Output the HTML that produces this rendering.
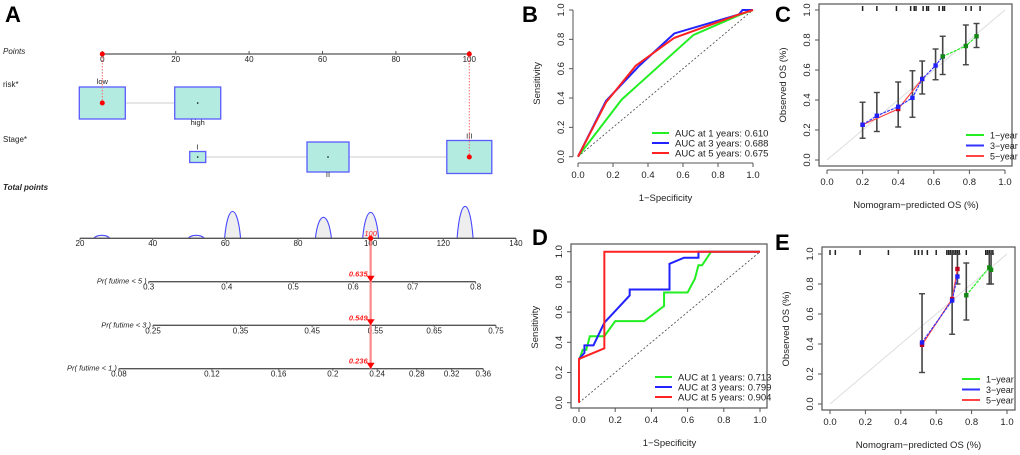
<!DOCTYPE html>
<html><head><meta charset="utf-8"><style>
html,body{margin:0;padding:0;background:#fff;width:1020px;height:455px;overflow:hidden}
svg{display:block;font-family:"Liberation Sans",Arial,sans-serif}
</style></head><body>
<svg id="fig" width="1020" height="455" viewBox="0 0 1020 455" xmlns="http://www.w3.org/2000/svg"></svg>
<script>
// ---------- Data ----------
const pointsTicks=[0,20,40,60,80,100];
const riskLevels=["low","high"];
const riskPoints=[0,26];
const stageLevels=["I","II","III"];
const stagePoints=[26,61.5,100];
const totalTicks=[20,40,60,80,100,120,140];
const densityCenters=[26,52,62,87,100,126];
const densityHeights=[3,3,27,21,26,32];
const pr5Labels=["0.3","0.4","0.5","0.6","0.7","0.8"];
const pr5Pts=[38.9,60.4,78.7,95.2,111.6,128.9];
const pr3Labels=["0.25","0.35","0.45","0.55","0.65","0.75"];
const pr3Pts=[40.1,64.2,83.9,101.3,117.5,134.5];
const pr1Labels=["0.08","0.12","0.16","0.2","0.24","0.28","0.32","0.36"];
const pr1Pts=[30.7,56.3,74.7,89.6,101.8,112.7,122.3,131.0];
const selTotal=100;
const selPr=["0.635","0.549","0.236"];
const bGreenX=[0,0.25,0.66,0.93,1], bGreenY=[0,0.39,0.83,0.97,1];
const bBlueX=[0,0.16,0.35,0.55,0.92,0.94,1], bBlueY=[0,0.38,0.62,0.84,0.97,1,1];
const bRedX=[0,0.16,0.33,0.55,0.92,1], bRedY=[0,0.37,0.62,0.81,0.97,1];
const bLegend=["AUC at 1 years: 0.610","AUC at 3 years: 0.688","AUC at 5 years: 0.675"];
const dGreenX=[0,0.02,0.04,0.06,0.14,0.2,0.36,0.47,0.47,0.6,0.64,0.66,0.68,0.73,1];
const dGreenY=[0.28,0.35,0.35,0.44,0.44,0.54,0.54,0.64,0.73,0.73,0.82,0.91,0.91,1,1];
const dBlueX=[0,0.03,0.03,0.08,0.14,0.28,0.28,0.5,0.5,0.58,0.66,0.66,1];
const dBlueY=[0.29,0.33,0.38,0.38,0.53,0.71,0.75,0.75,0.92,0.96,0.96,1,1];
const dRedX=[0,0,0.14,0.14,1], dRedY=[0,0.29,0.36,1,1];
const dLegend=["AUC at 1 years: 0.713","AUC at 3 years: 0.799","AUC at 5 years: 0.904"];
const cGreenX=[0.65,0.78,0.84], cGreenY=[0.69,0.76,0.825];
const cBlueX=[0.2,0.28,0.4,0.48,0.535,0.61,0.65], cBlueY=[0.235,0.295,0.355,0.415,0.54,0.63,0.69];
const cRedX=[0.2,0.4,0.535], cRedY=[0.235,0.34,0.54];
const cErrX=[0.2,0.28,0.4,0.48,0.535,0.61,0.65,0.78,0.84];
const cErrLo=[0.145,0.19,0.22,0.285,0.44,0.535,0.57,0.635,0.75];
const cErrHi=[0.385,0.45,0.52,0.595,0.66,0.74,0.825,0.9,0.91];
const cRug=[0.2,0.28,0.39,0.47,0.49,0.5,0.54,0.56,0.57,0.63,0.65,0.66,0.78,0.81,0.86];
const eGreenX=[0.77,0.9,0.91], eGreenY=[0.725,0.91,0.895];
const eBlueX=[0.52,0.69,0.72], eBlueY=[0.41,0.69,0.85];
const eRedX=[0.52,0.69,0.72], eRedY=[0.395,0.70,0.90];
const eErrX=[0.52,0.69,0.72,0.77,0.9,0.91];
const eErrLo=[0.21,0.465,0.8,0.56,0.8,0.8];
const eErrHi=[0.735,1.0,1.0,0.94,1.0,1.0];
const eRug=[0.0,0.03,0.17,0.33,0.48,0.5,0.52,0.55,0.6,0.66,0.67,0.68,0.69,0.7,0.71,0.72,0.73,0.77,0.88,0.89,0.9,0.91,0.92];
const calLegend=["1\u2212year","3\u2212year","5\u2212year"];
const ticks01=["0.0","0.2","0.4","0.6","0.8","1.0"];

// ---------- helpers ----------
const NS="http://www.w3.org/2000/svg";
const svg=document.getElementById('fig');
function el(tag,attrs,parent,text){const e=document.createElementNS(NS,tag);for(const k in attrs)e.setAttribute(k,attrs[k]);if(text!==undefined)e.textContent=text;(parent||svg).appendChild(e);return e;}
function grp(name,parent){const g=el('g',{},parent);return g;}
function txt(parent,x,y,s,size,opt){opt=opt||{};const t=el('text',{x:x,y:y,'font-size':size,'text-anchor':opt.anchor||'middle',fill:opt.fill||'#222','font-style':opt.italic?'italic':'normal','font-weight':opt.bold?'bold':'normal'},parent,s);if(opt.rot)t.setAttribute('transform','rotate(-90 '+x+' '+y+')');return t;}

[["A",5,22],["B",522,22],["C",775,22],["D",532,245],["E",775,250]].forEach(l=>{txt(svg,l[1],l[2],l[0],22,{anchor:'start',bold:true,fill:'#000',name:'panel-label-'+l[0].toLowerCase()});});

// ---------- Panel A nomogram ----------
const A=grp('nomogram-panel');
const px=v=>102.3+v*3.67;
const tx=v=>80+(v-20)*3.633;
function hAxis(g,x1,x2,y){el('line',{x1:x1,x2:x2,y1:y,y2:y,stroke:'#555','stroke-width':1.3},g);}
txt(A,3,54,"Points",8,{anchor:'start',italic:true,name:'points-title'});
const pg=grp('points-axis',A); hAxis(pg,px(0),px(100),54);
pointsTicks.forEach(v=>{el('line',{x1:px(v),x2:px(v),y1:54,y2:51,stroke:'#555'},pg);txt(pg,px(v),62,String(v),8,{name:'points-tick'});});
txt(A,3,87,"risk*",8,{anchor:'start',name:'risk-title'});
const rg=grp('risk-row',A);
el('line',{x1:px(riskPoints[0]),x2:px(riskPoints[1]),y1:103,y2:103,stroke:'#ddd','stroke-width':1.5},rg);
riskPoints.forEach((p,i)=>{const cx=px(p);el('rect',{x:cx-23,y:87,width:46,height:32,fill:'#b3ebe0',stroke:'#5a5aff','stroke-width':1.3},rg);
 txt(rg,cx,i==0?84:125,riskLevels[i],7.5,{name:'risk-level-'+riskLevels[i]});el('circle',{cx:cx,cy:103,r:0.8,fill:'#000'},rg);});
txt(A,3,142,"Stage*",8,{anchor:'start',name:'stage-title'});
const sg=grp('stage-row',A);
el('line',{x1:px(stagePoints[0]),x2:px(stagePoints[2]),y1:157,y2:157,stroke:'#ddd','stroke-width':1.5},sg);
const sW=[16,42,45],sH=[11,30,33];
stagePoints.forEach((p,i)=>{const cx=px(p);el('rect',{x:cx-sW[i]/2,y:157-sH[i]/2,width:sW[i],height:sH[i],fill:'#b3ebe0',stroke:'#5a5aff','stroke-width':1.3},sg);
 const ly=i==1?157+sH[i]/2+5:157-sH[i]/2-2;txt(sg,cx,ly,stageLevels[i],7.5,{name:'stage-level'});el('circle',{cx:cx,cy:157,r:0.8,fill:'#000'},sg);});
el('line',{x1:px(0),x2:px(0),y1:54,y2:103,stroke:'#f66','stroke-dasharray':'1.5,1.5'},A);
el('line',{x1:px(100),x2:px(100),y1:54,y2:157,stroke:'#f66','stroke-dasharray':'1.5,1.5'},A);
[[px(0),54],[px(100),54],[px(0),103],[px(100),157]].forEach(c=>el('circle',{cx:c[0],cy:c[1],r:2.5,fill:'#f00'},A));
txt(A,3,190,"Total points",8,{anchor:'start',italic:true,bold:true,name:'total-points-title'});
const tg=grp('total-points-axis',A);
const ty=238.3;
densityCenters.forEach((c,i)=>{const x=tx(c),h=densityHeights[i],w=8;const d='M'+(x-w)+','+ty+' C'+(x-w*0.6)+','+(ty-h*1.33)+' '+(x+w*0.6)+','+(ty-h*1.33)+' '+(x+w)+','+ty;
 const p=el('path',{d:d,fill:'#eee',stroke:'#4848ff','stroke-width':1.1},tg);});
hAxis(tg,tx(20),tx(140),ty);
totalTicks.forEach(v=>{el('line',{x1:tx(v),x2:tx(v),y1:ty,y2:ty+2,stroke:'#555'},tg);txt(tg,tx(v),246,String(v),8,{name:'total-tick'});});
const prRows=[[ "Pr( futime < 5 )",281.7,pr5Labels,pr5Pts],["Pr( futime < 3 )",325.3,pr3Labels,pr3Pts],["Pr( futime < 1 )",368.7,pr1Labels,pr1Pts]];
prRows.forEach((r,k)=>{const g=grp('probability-axis-'+k,A);const xs=r[3].map(tx);
 hAxis(g,xs[0],xs[xs.length-1],r[1]);
 txt(g,xs[0]-2,r[1]+2,r[0],7.5,{anchor:'end',italic:true,name:'probability-title'});
 r[2].forEach((l,i)=>{el('line',{x1:xs[i],x2:xs[i],y1:r[1],y2:r[1]+2,stroke:'#555'},g);txt(g,xs[i],r[1]+8,l,8,{name:'probability-tick'});});
 txt(g,tx(selTotal)-3,r[1]-5,selPr[k],7.5,{anchor:'end',italic:true,bold:true,fill:'#f22',name:'selected-probability'});
});
const selX=tx(selTotal);
el('line',{x1:selX,x2:selX,y1:ty,y2:368.7,stroke:'#f88','stroke-width':2.2},A);
txt(A,selX,236,String(selTotal),7.5,{italic:true,fill:'#f22',name:'selected-total'});
el('circle',{cx:selX,cy:ty,r:2.5,fill:'#f00'},A);
[281.7,325.3,368.7].forEach(y=>el('path',{d:'M'+(selX-4)+','+(y-6)+' L'+(selX+4)+','+(y-6)+' L'+selX+','+y+' Z',fill:'#f00'},A));

// ---------- generic chart ----------
function chart(name,cfg){
 const g=grp(name);
 const X=v=>cfg.x0+v*(cfg.x1-cfg.x0), Y=v=>cfg.y0-v*(cfg.y0-cfg.y1);
 if(cfg.box) el('rect',{x:cfg.bl,y:cfg.bt,width:cfg.br-cfg.bl,height:cfg.bb-cfg.bt,fill:'none',stroke:'#555','stroke-width':1.2},g);
 const ax=grp('x-axis',g), ay=grp('y-axis',g);
 el('line',{x1:X(0),x2:X(1),y1:cfg.axY,y2:cfg.axY,stroke:'#555'},ax);
 el('line',{x1:cfg.axX,x2:cfg.axX,y1:Y(0),y2:Y(1),stroke:'#555'},ay);
 ticks01.forEach((t,i)=>{const v=i/5;
  el('line',{x1:X(v),x2:X(v),y1:cfg.axY,y2:cfg.axY+4,stroke:'#555'},ax);txt(ax,X(v),cfg.axY+15,t,9.5,{name:'x-tick'});
  el('line',{x1:cfg.axX,x2:cfg.axX-4,y1:Y(v),y2:Y(v),stroke:'#555'},ay);txt(ay,cfg.axX-9,Y(v),t,9.5,{rot:true,name:'y-tick'});});
 txt(g,(X(0)+X(1))/2,cfg.axY+38,cfg.xt,9.5,{name:'x-axis-title'});
 txt(g,cfg.axX-33,(Y(0)+Y(1))/2,cfg.yt,9.5,{rot:true,name:'y-axis-title'});
 return {g,X,Y};
}
function line(c,xs,ys,col,name,w,dash){const p=el('polyline',{points:xs.map((x,i)=>c.X(x)+','+c.Y(ys[i])).join(' '),fill:'none',stroke:col,'stroke-width':w||2,'stroke-dasharray':dash||'none'},c.g);return p;}
function legend(c,x,y,dy,labels,cols,len,size){const g=grp('legend',c.g);labels.forEach((l,i)=>{el('line',{x1:x,x2:x+len,y1:y+i*dy,y2:y+i*dy,stroke:cols[i],'stroke-width':2},g);txt(g,x+len+6,y+i*dy+3.5,l,size,{anchor:'start',name:'legend-entry'});});}
const cols=['#22ee22','#2222ff','#ff2222'];

const B=chart('roc-train',{x0:578,x1:753,y0:156.7,y1:10,axX:573,axY:163,xt:'1\u2212Specificity',yt:'Sensitivity'});
line(B,[0,1],[0,1],'#444','diagonal',0.8,'2,2');
line(B,bGreenX,bGreenY,cols[0],'roc-1-year');line(B,bBlueX,bBlueY,cols[1],'roc-3-year');line(B,bRedX,bRedY,cols[2],'roc-5-year');
legend(B,652,133,10,bLegend,cols,17,9.5);

const D=chart('roc-test',{x0:579,x1:760,y0:402.7,y1:251.7,box:true,bl:571,br:767,bt:244,bb:408,axX:571,axY:408,xt:'1\u2212Specificity',yt:'Sensitivity'});
line(D,[0,1],[0,1],'#444','diagonal',0.8,'2,2');
line(D,dGreenX,dGreenY,cols[0],'roc-1-year');line(D,dBlueX,dBlueY,cols[1],'roc-3-year');line(D,dRedX,dRedY,cols[2],'roc-5-year');
legend(D,655,377,10,dLegend,cols,17,9.5);

function calib(c,gx,gy,bx,by,rx,ry,ex,lo,hi,rug,lx,ly){
 line(c,[0,1],[0,1],'#ddd','ideal-line',1);
 const rg=grp('rug',c.g);rug.forEach(v=>el('line',{x1:c.X(v),x2:c.X(v),y1:c.Y(1)-4,y2:c.Y(1)+1,stroke:'#222','stroke-width':1.5},rg));
 ex.forEach((x,i)=>{const X=c.X(x);const g=grp('error-bar',c.g);el('line',{x1:X,x2:X,y1:c.Y(lo[i]),y2:c.Y(hi[i]),stroke:'#444','stroke-width':1.6},g);
  [lo[i],hi[i]].forEach(v=>el('line',{x1:X-3,x2:X+3,y1:c.Y(v),y2:c.Y(v),stroke:'#444','stroke-width':1.4},g));});
 line(c,rx,ry,'#ff4444','calibration-5-year',1.2);line(c,bx,by,'#3333ff','calibration-3-year',1.2,'3,1');line(c,gx,gy,'#22ee22','calibration-1-year',1.2,'3,1');
 [[rx,ry,'#c00020'],[bx,by,'#2020ff'],[gx,gy,'#118811']].forEach(s=>s[0].forEach((x,i)=>el('rect',{x:c.X(x)-2.2,y:c.Y(s[1][i])-2.2,width:4.4,height:4.4,fill:s[2]},c.g)));
 legend(c,lx,ly,10.5,calLegend,['#22ee22','#3333ff','#ff4444'],18,9);
}
const C=chart('calibration-train',{x0:827,x1:1005,y0:160,y1:10,box:true,bl:819,br:1012,bt:4,bb:166,axX:819,axY:170,xt:'Nomogram\u2212predicted OS (%)',yt:'Observed OS (%)'});
calib(C,cGreenX,cGreenY,cBlueX,cBlueY,cRedX,cRedY,cErrX,cErrLo,cErrHi,cRug,966,135);
const E=chart('calibration-test',{x0:830,x1:1007,y0:404,y1:254,box:true,bl:822,br:1015,bt:247,bb:410,axX:822,axY:410,xt:'Nomogram\u2212predicted OS (%)',yt:'Observed OS (%)'});
calib(E,eGreenX,eGreenY,eBlueX,eBlueY,eRedX,eRedY,eErrX,eErrLo,eErrHi,eRug,962,379);
</script>
</body></html>
